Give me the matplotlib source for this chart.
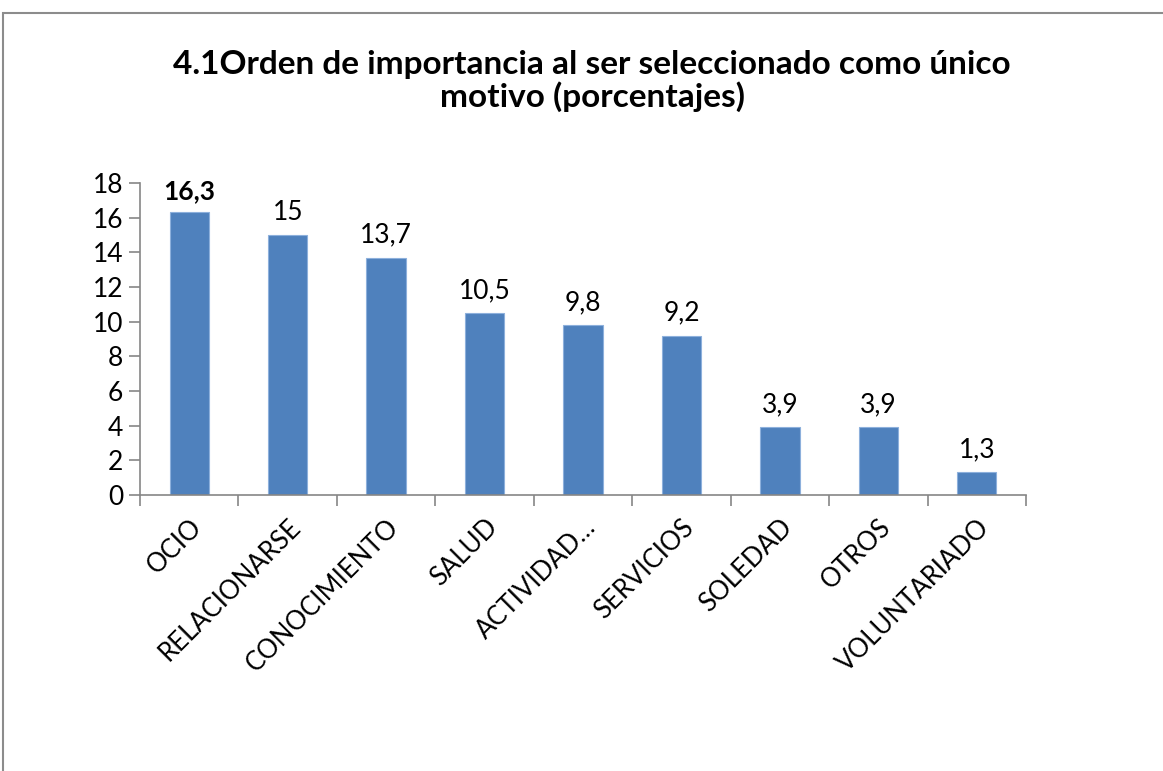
import matplotlib
matplotlib.use("Agg")
import matplotlib.pyplot as plt
from matplotlib.patches import Rectangle

categories = ["OCIO", "RELACIONARSE", "CONOCIMIENTO", "SALUD", "ACTIVIDAD\u2026",
              "SERVICIOS", "SOLEDAD", "OTROS", "VOLUNTARIADO"]
values = [16.3, 15, 13.7, 10.5, 9.8, 9.2, 3.9, 3.9, 1.3]
value_labels = ["16,3", "15", "13,7", "10,5", "9,8", "9,2", "3,9", "3,9", "1,3"]
y_ticks = [0, 2, 4, 6, 8, 10, 12, 14, 16, 18]
title = "4.1Orden de importancia al ser seleccionado como único\nmotivo (porcentajes)"

plt.rcParams['font.family'] = ['Lato', 'DejaVu Sans']

W, H = 1163, 771
fig = plt.figure(figsize=(W / 100, H / 100), dpi=100)

# outer chart frame (left and top visible, rest cut off)
fig.patches.append(Rectangle((3 / W, -0.1), 1.2, 1 - 13 / H + 0.1,
                             transform=fig.transFigure, fill=False,
                             edgecolor='#8c8c8c', linewidth=1.5))

ax = fig.add_axes([140 / W, 1 - 495 / H, 886 / W, (495 - 183) / H])
x = list(range(len(categories)))
ax.bar(x, values, width=0.4, color='#4F81BD', edgecolor='#8db0dc', linewidth=0.8)

for i, (v, lab) in enumerate(zip(values, value_labels)):
    ax.annotate(lab, (i, v), xytext=(0, 7), textcoords='offset points',
                ha='center', va='bottom', fontsize=19,
                fontweight='bold' if i == 0 else 'normal')

ax.set_xlim(-0.5, len(categories) - 0.5)
ax.set_ylim(0, 18)
ax.set_yticks(y_ticks)
ax.tick_params(axis='y', labelsize=19, length=8, color='#868686', width=1.2, pad=4)

# category ticks at boundaries, labels at centers
ax.set_xticks([i - 0.5 for i in range(len(categories) + 1)])
ax.set_xticklabels([])
ax.tick_params(axis='x', length=8, color='#868686', width=1.2)
ax.set_xticks(x, minor=True)
ax.set_xticklabels(categories, minor=True, rotation=45, ha='right',
                   rotation_mode='anchor', fontsize=18.5)
ax.tick_params(axis='x', which='minor', length=0, pad=14)

for s in ['top', 'right']:
    ax.spines[s].set_visible(False)
for s in ['left', 'bottom']:
    ax.spines[s].set_color('#868686')
    ax.spines[s].set_linewidth(1.2)

fig.text(592 / W, 1 - 81 / H, title, ha='center', va='center',
         fontsize=24, fontweight='bold', linespacing=1.1)

fig.savefig("out.png", dpi=100)
